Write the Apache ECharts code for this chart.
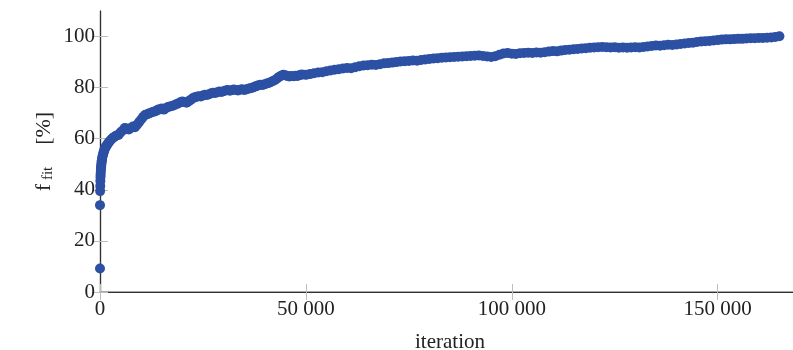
<!DOCTYPE html>
<html>
<head>
<meta charset="utf-8">
<script src="https://cdn.jsdelivr.net/npm/echarts@6/dist/echarts.min.js"></script>
<style>
  html, body { margin: 0; padding: 0; overflow: hidden; background: #fff; }
  #chart { width: 800px; height: 350px; }
</style>
</head>
<body>
<div id="chart"></div>
<script>
// iteration vs fitness
const iterations = [
  0, 0, 30, 60, 90, 120, 150, 180, 220, 260, 300, 350, 400, 450, 500, 600, 700, 800, 900, 1000,
  1100, 1250, 1400, 1600, 1800, 2000, 2200, 2500, 2800, 3100,
  3500, 4000, 4500, 5000, 5500, 6000, 6500, 7000, 7500, 8000, 8500, 9000, 9500, 10000,
  10500, 11000, 11500, 12000, 12500, 13000, 13500, 14000, 14500, 15000, 15500, 16000, 16500, 17000,
  17500, 18000, 18500, 19000, 19500, 20000, 20500, 21000, 21500, 22000, 22500, 23000, 23500, 24000,
  24500, 25000, 25500, 26000, 26500, 27000, 27500, 28000, 28500, 29000, 29500, 30000, 30500, 31000,
  31500, 32000, 32500, 33000, 33500, 34000, 34500, 35000, 35500, 36000, 36500, 37000, 37500, 38000,
  38500, 39000, 39500, 40000, 40500, 41000, 41500, 42000, 42500, 43000, 43500, 44000, 44500, 45000,
  45500, 46000, 46500, 47000, 47500, 48000, 48500, 49000, 50000, 51000, 52000, 53000, 54000, 55000,
  56000, 57000, 58000, 59000, 60000, 61000, 62000, 63000, 64000, 65000, 66000, 67000, 68000, 69000,
  70000, 71000, 72000, 73000, 74000, 75000, 76000, 77000, 78000, 79000, 80000, 81000, 82000, 83000,
  84000, 85000, 86000, 87000, 88000, 89000, 90000, 91000, 92000, 93000, 94000, 95000, 96000, 97000,
  98000, 99000, 100000, 101000, 102000, 103000, 104000, 105000, 106000, 107000, 108000, 109000, 110000, 111000,
  112000, 113000, 114000, 115000, 116000, 117000, 118000, 119000, 120000, 121000, 122000, 123000, 124000, 125000,
  126000, 127000, 128000, 129000, 130000, 131000, 132000, 133000, 134000, 135000, 136000, 137000, 138000, 139000,
  140000, 141000, 142000, 143000, 144000, 145000, 146000, 147000, 148000, 149000, 150000, 151000, 152000, 153000,
  154000, 155000, 156000, 157000, 158000, 159000, 160000, 161000, 162000, 163000, 164000, 165000
];
const fitValues = [
  9.2, 34, 39.5, 41.5, 43.5, 45, 46, 47, 48, 48.8, 49.5, 50.2, 51, 51.6, 52.2, 53, 53.6, 54.2, 54.8, 55.3,
  55.8, 56.3, 56.8, 57.3, 57.8, 58.3, 58.7, 59.3, 59.8, 60.3,
  60.8, 61.3, 61.5, 62.5, 63.2, 64.2, 64, 63.6, 64.2, 64.8, 64.5, 65.5, 66.5, 67.5,
  68.6, 69.4, 69.6, 70, 70.3, 70.6, 70.8, 71.3, 71.5, 71.8, 71.4, 71.9, 72.4, 72.6,
  72.8, 73.1, 73.5, 73.8, 74.3, 74.6, 74.4, 74.1, 74.6, 75.2, 75.8, 76.2, 76.4, 76.6,
  76.5, 76.9, 77.2, 77.1, 77.4, 77.8, 78, 77.9, 78.2, 78.5, 78.3, 78.6, 78.9, 79.1,
  78.8, 79, 79.3, 79.1, 78.9, 79.2, 79.4, 79.1, 79.3, 79.6, 79.8, 80, 80.3, 80.6,
  80.9, 81.1, 81, 81.3, 81.6, 81.8, 82.2, 82.6, 83, 83.6, 84.2, 84.7, 85, 84.8,
  84.6, 84.4, 84.6, 84.5, 84.7, 84.6, 84.9, 85.1, 85, 85.3, 85.6, 85.9, 86, 86.4,
  86.7, 87, 87.2, 87.5, 87.7, 87.6, 88, 88.4, 88.7, 88.8, 89, 88.9, 89.2, 89.5,
  89.6, 89.8, 90, 90.2, 90.3, 90.4, 90.6, 90.5, 90.8, 91, 91.2, 91.4, 91.5, 91.7,
  91.8, 91.9, 92, 92.1, 92.2, 92.3, 92.4, 92.5, 92.6, 92.4, 92.2, 92, 92.3, 92.9,
  93.4, 93.6, 93.3, 93.2, 93.5, 93.6, 93.7, 93.6, 93.8, 93.7, 93.9, 94.1, 94.3, 94.2,
  94.5, 94.7, 94.8, 95, 95.1, 95.3, 95.4, 95.6, 95.7, 95.8, 95.9, 95.8, 95.7, 95.8,
  95.6, 95.7, 95.6, 95.7, 95.8, 95.7, 95.9, 96.1, 96.3, 96.5, 96.4, 96.6, 96.8, 96.7,
  96.9, 97.1, 97.3, 97.5, 97.6, 97.9, 98.1, 98.2, 98.3, 98.5, 98.6, 98.8, 98.9, 98.9,
  99, 99.1, 99.1, 99.2, 99.3, 99.3, 99.4, 99.4, 99.5, 99.6, 99.8, 100.1
];
const xTicks = [0, 50000, 100000, 150000];
const xTickLabels = ['0', '50 000', '100 000', '150 000'];
const yTicks = [0, 20, 40, 60, 80, 100];

const serif = '"Liberation Serif", "DejaVu Serif", serif';
const tickStyle = {show: true, inside: true, length: 8, lineStyle: {color: '#bdbdbd', width: 1}};

const option = {
  animation: false,
  textStyle: {fontFamily: serif},
  grid: {left: 100, right: 0, top: 11, bottom: 58, outerBoundsMode: 'none', containLabel: false},
  xAxis: [
    {
      type: 'value',
      min: 0,
      max: 170000,
      interval: 50000,
      name: 'iteration',
      nameLocation: 'middle',
      nameGap: 40,
      nameTextStyle: {fontFamily: serif, fontSize: 21, color: '#222'},
      splitLine: {show: false},
      axisLine: {show: true, lineStyle: {color: '#8a8a8a', width: 1.5}},
      axisTick: Object.assign({customValues: xTicks}, tickStyle),
      axisLabel: {
        customValues: xTicks,
        fontFamily: serif, fontSize: 21, color: '#222', margin: 7,
        formatter: v => xTickLabels[xTicks.indexOf(v)]
      }
    },
    {
      type: 'value',
      position: 'top',
      min: 0,
      max: 170000,
      interval: 50000,
      splitLine: {show: false},
      axisLine: {show: true, lineStyle: {color: '#333', width: 1.2}},
      axisTick: Object.assign({customValues: xTicks}, tickStyle),
      axisLabel: {show: false}
    }
  ],
  yAxis: [
    {
      type: 'value',
      min: 0,
      max: 110,
      interval: 20,
      name: '{m|f}{s| fit}{m|    [%]}',
      nameLocation: 'middle',
      nameGap: 44,
      nameMoveOverlap: false,
      nameRotate: 90,
      nameTextStyle: {
        color: '#222',
        rich: {
          m: {fontFamily: serif, fontSize: 22, color: '#222'},
          s: {fontFamily: serif, fontSize: 15, color: '#222', padding: [9, 0, 0, 0]}
        }
      },
      splitLine: {show: false},
      axisLine: {show: true, lineStyle: {color: '#333', width: 1.2}},
      axisTick: Object.assign({customValues: yTicks}, tickStyle),
      axisLabel: {customValues: yTicks, fontFamily: serif, fontSize: 21, color: '#222', margin: 5}
    },
    {
      type: 'value',
      position: 'right',
      min: 0,
      max: 110,
      interval: 20,
      splitLine: {show: false},
      axisLine: {show: true, lineStyle: {color: '#333', width: 1.2}},
      axisTick: Object.assign({customValues: yTicks}, tickStyle),
      axisLabel: {show: false}
    }
  ],
  series: [
    {
      type: 'scatter',
      silent: true,
      symbol: 'circle',
      symbolSize: 10,
      itemStyle: {color: '#2c50a3', opacity: 1},
      data: iterations.map((it, i) => [it, fitValues[i]])
    }
  ]
};

const chart = echarts.init(document.getElementById('chart'));
chart.setOption(option);
</script>
</body>
</html>
